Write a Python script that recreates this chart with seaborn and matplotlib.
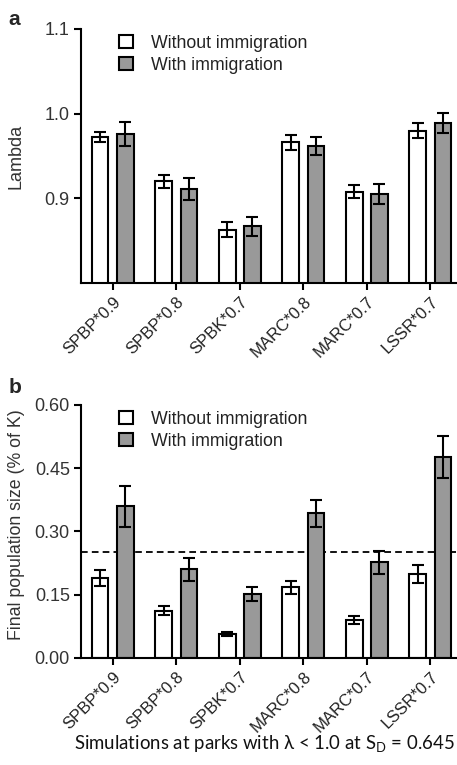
import matplotlib
matplotlib.use("Agg")
import matplotlib.pyplot as plt
import seaborn as sns
import pandas as pd
import numpy as np
from matplotlib.patches import Patch

categories = ["SPBP*0.9", "SPBP*0.8", "SPBK*0.7", "MARC*0.8", "MARC*0.7", "LSSR*0.7"]
groups = ["Without immigration", "With immigration"]

lambda_without = [0.972, 0.920, 0.863, 0.966, 0.908, 0.980]
lambda_without_err = [0.006, 0.008, 0.009, 0.0085, 0.0077, 0.0093]
lambda_with = [0.976, 0.911, 0.867, 0.962, 0.905, 0.989]
lambda_with_err = [0.014, 0.0135, 0.011, 0.011, 0.0115, 0.0113]

pop_without = [0.189, 0.112, 0.056, 0.167, 0.090, 0.199]
pop_without_err = [0.019, 0.010, 0.004, 0.016, 0.010, 0.021]
pop_with = [0.359, 0.210, 0.151, 0.343, 0.226, 0.477]
pop_with_err = [0.049, 0.027, 0.017, 0.032, 0.027, 0.050]

threshold = 0.25

lambda_ticks = [0.9, 1.0, 1.1]
pop_ticks = [0.00, 0.15, 0.30, 0.45, 0.60]

sns.set_style("ticks")
plt.rcParams["font.family"] = ["Liberation Sans", "DejaVu Sans"]
plt.rcParams["mathtext.fontset"] = "custom"
plt.rcParams["mathtext.rm"] = "Lato"

fig = plt.figure(figsize=(4.57, 7.65), dpi=100)
ax_a = fig.add_axes([0.1772, 0.6301, 0.8228, 0.3320])
ax_b = fig.add_axes([0.1772, 0.1403, 0.8228, 0.3303])

palette = {"Without immigration": "white", "With immigration": "#999999"}
text_col = "#333333"


def draw(ax, v0, e0, v1, e1, ylim, yticks, fmt):
    df = pd.DataFrame({
        "cat": categories * 2,
        "grp": [groups[0]] * len(categories) + [groups[1]] * len(categories),
        "val": list(v0) + list(v1),
    })
    sns.barplot(data=df, x="cat", y="val", hue="grp", hue_order=groups,
                order=categories, palette=palette, width=0.79, gap=0.34,
                errorbar=None, edgecolor="black", linewidth=1.5, ax=ax,
                legend=False, saturation=1)
    errs = list(e0) + list(e1)
    vals = list(v0) + list(v1)
    bars = [p for c in ax.containers for p in c]
    for bar, v, e in zip(bars, vals, errs):
        xc = bar.get_x() + bar.get_width() / 2
        ax.errorbar(xc, v, yerr=e, color="black", capsize=4, capthick=1.5,
                    elinewidth=1.5, zorder=5)
    ax.set_ylim(*ylim)
    ax.set_yticks(yticks)
    ax.set_yticklabels([fmt.format(t) for t in yticks], fontsize=13, color=text_col)
    ax.set_xlim(-0.5, 5.42)
    ax.set_xticks(range(len(categories)))
    ax.set_xticklabels(categories, rotation=45, ha="right", rotation_mode="anchor",
                       fontsize=12, color="#222222")
    ax.tick_params(axis="both", length=5, width=1.5, color="black", pad=3)
    for s in ["top", "right"]:
        ax.spines[s].set_visible(False)
    for s in ["left", "bottom"]:
        ax.spines[s].set_linewidth(1.5)
        ax.spines[s].set_color("black")
    ax.set_xlabel("")
    handles = [Patch(facecolor=palette[g], edgecolor="black", linewidth=1.5, label=g)
               for g in groups]
    ax.legend(handles=handles, loc="upper left", bbox_to_anchor=(0.1, 0.977),
              frameon=False, fontsize=12.8, handlelength=0.8, handleheight=0.75,
              handletextpad=1.0, labelspacing=0.3, borderaxespad=0, borderpad=0,
              labelcolor="#222222")


draw(ax_a, lambda_without, lambda_without_err, lambda_with, lambda_with_err,
     (0.8, 1.1), lambda_ticks, "{:.1f}")
ax_a.set_ylabel("Lambda", fontsize=13, color=text_col)
ax_a.yaxis.set_label_coords(-0.149, 0.5)

draw(ax_b, pop_without, pop_without_err, pop_with, pop_with_err,
     (0.0, 0.6), pop_ticks, "{:.2f}")
ax_b.axhline(threshold, color="black", linestyle=(0, (3.7, 2.3)), linewidth=1.3, zorder=0.5)
ax_b.set_ylabel("Final population size (% of K)", fontsize=12.8, color=text_col)
ax_b.yaxis.set_label_coords(-0.149, 0.525)
ax_b.set_xlabel(r"Simulations at parks with $\mathrm{\lambda}$ < 1.0 at S$_\mathrm{D}$ = 0.645",
                fontsize=13.4, family="Lato", color="#111111")
ax_b.xaxis.set_label_coords(0.488, -0.3)

fig.text(0.018, 0.975, "a", fontsize=15, fontweight="bold", va="center", ha="left")
fig.text(0.018, 0.494, "b", fontsize=15, fontweight="bold", va="center", ha="left")

fig.savefig("out.png", dpi=100)
